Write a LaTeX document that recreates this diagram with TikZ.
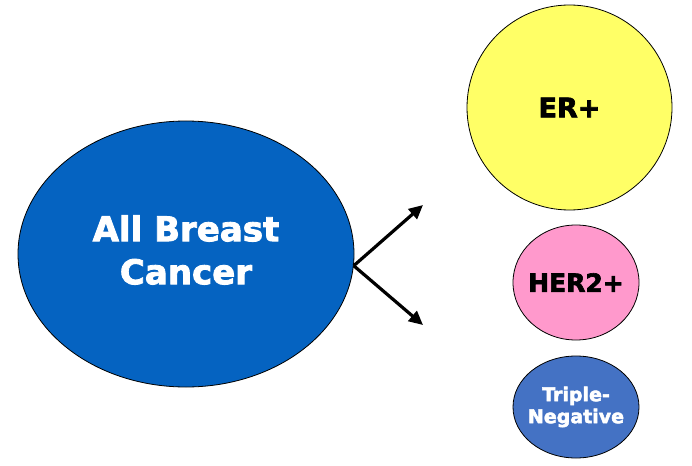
\documentclass[tikz,border=0pt]{standalone}
\usepackage{fontspec}
\setmainfont{DejaVu Sans}
\newfontfamily\heavy[FakeBold=2.5]{DejaVu Sans Bold}
\usetikzlibrary{shapes.geometric,arrows.meta}
\definecolor{bigblue}{RGB}{5,99,193}
\definecolor{eryellow}{RGB}{255,255,102}
\definecolor{herpink}{RGB}{255,153,204}
\definecolor{tnblue}{RGB}{68,114,196}
\tikzset{
  blob/.style={ellipse, draw=black, line width=0.8pt, inner sep=0pt},
  blobtext/.style={align=center, inner sep=0pt},
  branch/.style={line width=3.2pt, -{Triangle[length=14pt,width=13pt]}}
}
\begin{document}
\begin{tikzpicture}[x=1pt,y=-1pt]
\useasboundingbox (0,0) rectangle (692,465);
\node[blob, fill=bigblue, minimum width=336pt, minimum height=266pt,
      label={[blobtext, text=white, yshift=4pt, font=\heavy\fontsize{34}{43}\selectfont]center:All Breast\\Cancer}] (big) at (186,254) {};
\node[blob, fill=eryellow, minimum width=205pt, minimum height=205pt,
      label={[blobtext, font=\heavy\fontsize{27}{30}\selectfont]center:ER+}] (er) at (569.5,107.5) {};
\node[blob, fill=herpink, minimum width=126pt, minimum height=115pt,
      label={[blobtext, font=\heavy\fontsize{25}{30}\selectfont]center:HER2+}] (her) at (576,282.5) {};
\node[blob, fill=tnblue, minimum width=126pt, minimum height=102pt,
      label={[blobtext, text=white, font=\heavy\fontsize{19}{22}\selectfont]center:Triple-\\Negative}] (tn) at (576,407) {};
\coordinate (upEnd) at (423,205);
\coordinate (downEnd) at (423,325);
\draw[branch] (big.-4) -- (upEnd);
\draw[branch] (big.-4) -- (downEnd);
\end{tikzpicture}
\end{document}
